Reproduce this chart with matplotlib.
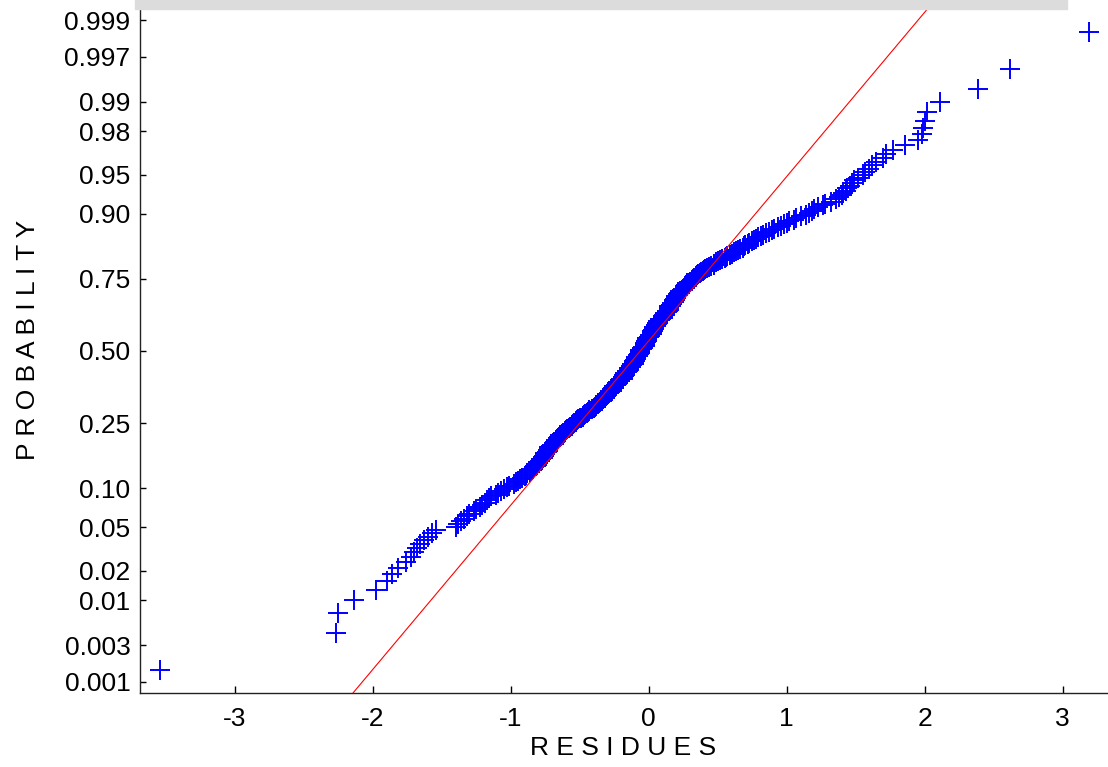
import numpy as np
import matplotlib
matplotlib.use('Agg')
import matplotlib.pyplot as plt
from matplotlib.patches import Rectangle
from statistics import NormalDist

# Residus terurut
residues = [
    -3.54, -2.27, -2.25, -2.14, -1.98, -1.90, -1.86, -1.82, -1.76, -1.72,
    -1.70, -1.68, -1.66, -1.63, -1.60, -1.57, -1.54, -1.40, -1.38, -1.36,
    -1.34, -1.32, -1.30, -1.27, -1.25, -1.22, -1.21, -1.19, -1.17, -1.16,
    -1.14, -1.11, -1.09, -1.07, -1.05, -1.03, -1.01, -0.98, -0.96, -0.95,
    -0.93, -0.92, -0.90, -0.89, -0.88, -0.86, -0.85, -0.84, -0.83, -0.82,
    -0.81, -0.80, -0.80, -0.79, -0.78, -0.77, -0.77, -0.76, -0.75, -0.75,
    -0.74, -0.73, -0.73, -0.72, -0.72, -0.71, -0.70, -0.69, -0.69, -0.68,
    -0.67, -0.67, -0.66, -0.65, -0.64, -0.64, -0.63, -0.62, -0.61, -0.61,
    -0.60, -0.59, -0.58, -0.57, -0.56, -0.56, -0.55, -0.54, -0.53, -0.53,
    -0.52, -0.51, -0.50, -0.49, -0.48, -0.48, -0.47, -0.46, -0.45, -0.44,
    -0.43, -0.43, -0.41, -0.40, -0.40, -0.39, -0.38, -0.38, -0.37, -0.36,
    -0.35, -0.35, -0.34, -0.34, -0.33, -0.32, -0.32, -0.31, -0.31, -0.30,
    -0.30, -0.29, -0.28, -0.28, -0.27, -0.27, -0.27, -0.26, -0.25, -0.25,
    -0.25, -0.24, -0.23, -0.23, -0.22, -0.22, -0.21, -0.21, -0.20, -0.19,
    -0.19, -0.19, -0.18, -0.18, -0.17, -0.17, -0.17, -0.16, -0.16, -0.15,
    -0.14, -0.14, -0.14, -0.14, -0.13, -0.13, -0.12, -0.12, -0.11, -0.11,
    -0.11, -0.11, -0.10, -0.10, -0.09, -0.09, -0.09, -0.09, -0.08, -0.08,
    -0.07, -0.07, -0.06, -0.06, -0.06,
    -0.06, -0.06, -0.05, -0.05, -0.04,
    -0.04, -0.03, -0.03, -0.03, -0.03, -0.03, -0.02, -0.02, -0.01, -0.01,
    -0.01, -0.01, -0.01, 0.00, 0.01, 0.01, 0.02, 0.02, 0.02, 0.02,
    0.02, 0.03, 0.03, 0.04, 0.04, 0.04, 0.04, 0.05, 0.05, 0.06,
    0.06, 0.07, 0.07, 0.07, 0.08, 0.08, 0.09, 0.10, 0.10, 0.10,
    0.11, 0.12, 0.12, 0.12, 0.13, 0.13, 0.14, 0.15, 0.15, 0.15,
    0.15, 0.15, 0.16, 0.16, 0.17, 0.17, 0.18, 0.18, 0.18, 0.19,
    0.19, 0.20, 0.20, 0.20, 0.21, 0.21, 0.22, 0.23, 0.23, 0.23,
    0.24, 0.25, 0.26, 0.26, 0.26, 0.27, 0.28, 0.28, 0.29, 0.30,
    0.31, 0.31, 0.32, 0.33, 0.34, 0.34, 0.35, 0.36, 0.37, 0.38,
    0.39, 0.40, 0.41, 0.42, 0.44, 0.45, 0.47, 0.47, 0.49, 0.50,
    0.52, 0.53, 0.55, 0.56, 0.57, 0.59, 0.60, 0.62, 0.63, 0.65,
    0.66, 0.68, 0.69, 0.70, 0.72, 0.73, 0.75, 0.76, 0.78, 0.79,
    0.81, 0.83, 0.85, 0.87, 0.89, 0.91, 0.94, 0.96, 0.98, 1.00,
    1.02, 1.05, 1.07, 1.10, 1.14, 1.16, 1.18, 1.20, 1.23, 1.26,
    1.28, 1.32, 1.36, 1.38, 1.40, 1.41, 1.43, 1.44, 1.46, 1.47,
    1.49, 1.52, 1.55, 1.57, 1.60, 1.62, 1.65, 1.70, 1.72, 1.77,
    1.86, 1.95, 1.98, 1.99, 2.00, 2.02, 2.11, 2.39, 2.62, 3.19,
]

prob_ticks = [0.001, 0.003, 0.01, 0.02, 0.05, 0.10, 0.25, 0.50,
              0.75, 0.90, 0.95, 0.98, 0.99, 0.997, 0.999]
prob_labels = ['0.001', '0.003', '0.01', '0.02', '0.05', '0.10', '0.25', '0.50',
               '0.75', '0.90', '0.95', '0.98', '0.99', '0.997', '0.999']
x_ticks = [-3, -2, -1, 0, 1, 2, 3]

# garis referensi (normal fit)
ref_mean = -0.062
ref_std = 0.652

nd = NormalDist()
x = np.sort(np.array(residues))
n = len(x)
p = (np.arange(1, n + 1) - 0.5) / n
z = np.array([nd.inv_cdf(pi) for pi in p])

plt.rcParams['font.family'] = ['Liberation Sans', 'DejaVu Sans']

W, H = 1108, 767
fig = plt.figure(figsize=(W / 100, H / 100), dpi=100)
ax = fig.add_axes([140 / W, (H - 693.3) / H, (W - 140) / W, (693.3 - 9) / H])

ylo, yhi = -3.196, 3.193
ax.plot(x, z, '+', color='#0000ff', markersize=14, markeredgewidth=1.4, zorder=2)
zl = np.array([ylo, yhi])
ax.plot(ref_mean + ref_std * zl, zl, color='red', lw=0.8, zorder=3)

ax.set_xlim(-3.688, 3.329)
ax.set_ylim(ylo, yhi)
ax.set_xticks(x_ticks)
ax.set_xticklabels([str(t) for t in x_ticks])
ax.set_yticks([nd.inv_cdf(t) for t in prob_ticks])
ax.set_yticklabels(prob_labels)

ax.tick_params(axis='x', direction='in', length=5, width=1, pad=10, labelsize=19)
ax.tick_params(axis='y', direction='in', length=4, width=1, pad=7, labelsize=19)
for s in ['top', 'right']:
    ax.spines[s].set_visible(False)
for s in ['left', 'bottom']:
    ax.spines[s].set_color('#222222')
    ax.spines[s].set_linewidth(1.0)

fig.text(623 / W, 1 - 748 / H, 'R E S I D U E S', ha='center', va='center', fontsize=19)
fig.text(28 / W, 1 - 340 / H, 'P R O B A B I L I T Y', ha='center', va='center',
         rotation=90, fontsize=19)

# pita abu-abu di atas
fig.patches.append(Rectangle((135 / W, 1 - 9 / H), (1067 - 135) / W, 9 / H,
                             transform=fig.transFigure, color='#dcdcdc', zorder=0))

fig.savefig('out.png', dpi=100)
